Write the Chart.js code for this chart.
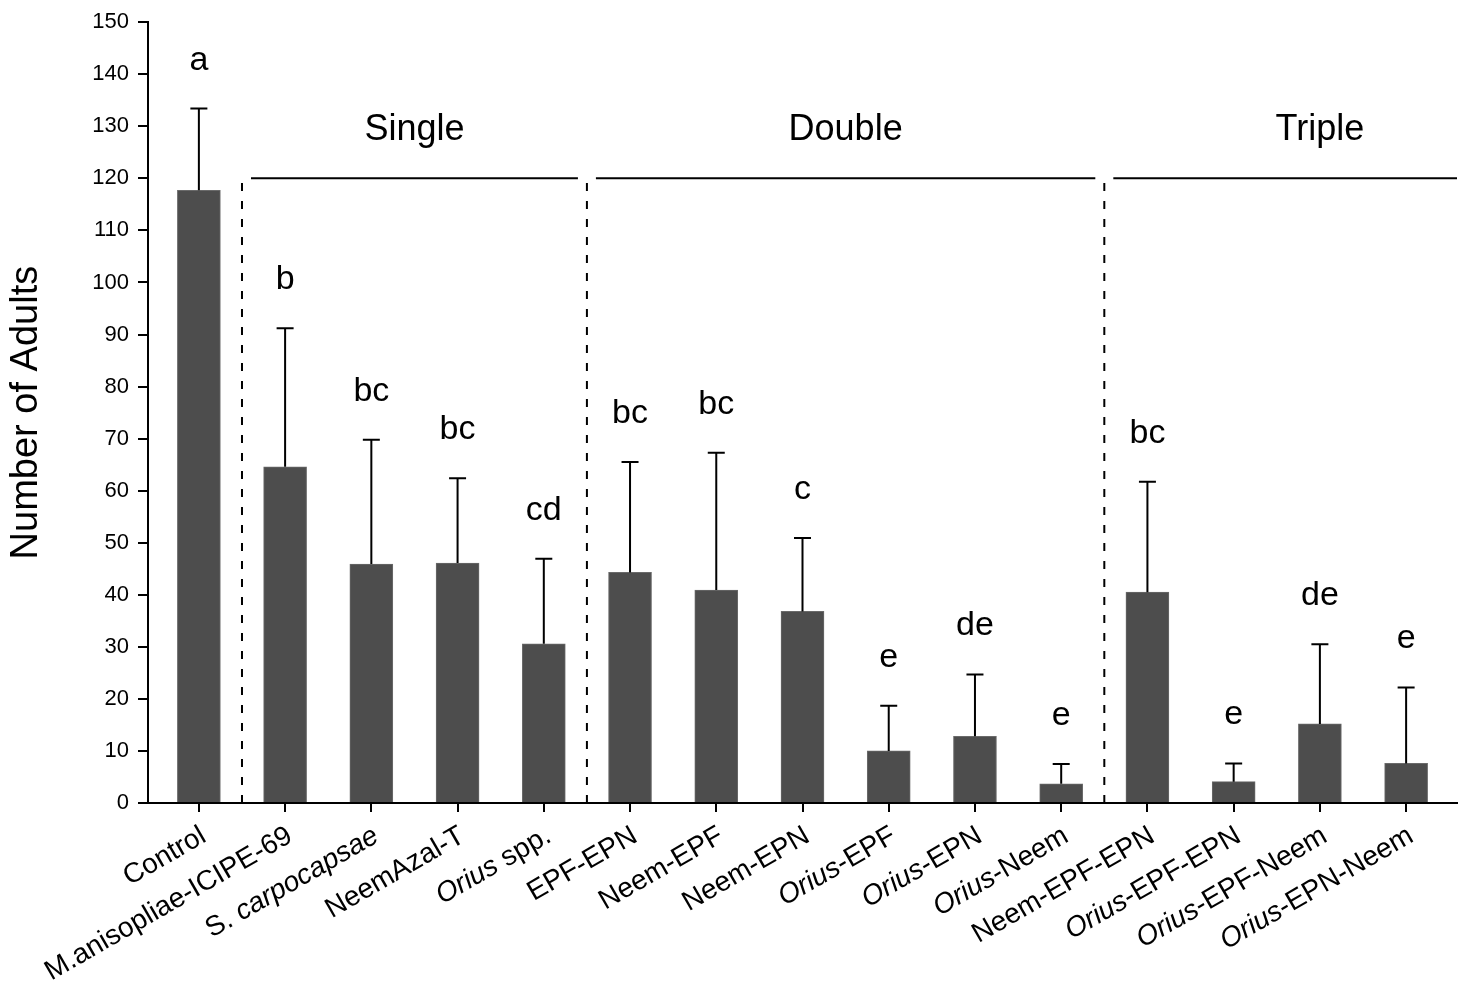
<!DOCTYPE html>
<html>
<head>
<meta charset="utf-8">
<title>Number of Adults</title>
<script src="https://cdn.jsdelivr.net/npm/chart.js@4.4.0/dist/chart.umd.min.js"></script>
<style>
  html, body { margin: 0; padding: 0; background: #fff; }
  #wrap { width: 1471px; height: 987px; }
</style>
</head>
<body>
<div id="wrap"><canvas id="adultsChart"></canvas></div>
<script>
// *text* = italic part of the label
const treatments = [
  'Control', 'M.anisopliae-ICIPE-69', 'S. *carpocapsae*', 'NeemAzal-T', '*Orius* spp.',
  'EPF-EPN', 'Neem-EPF', 'Neem-EPN', '*Orius*-EPF', '*Orius*-EPN', '*Orius*-Neem',
  'Neem-EPF-EPN', '*Orius*-EPF-EPN', '*Orius*-EPF-Neem', '*Orius*-EPN-Neem'
];
const meanAdults = [117.7, 64.6, 45.9, 46.1, 30.6, 44.3, 40.9, 36.8, 10.0, 12.8, 3.7, 40.5, 4.1, 15.2, 7.6];
const upperError = [133.4, 91.2, 69.8, 62.4, 46.9, 65.5, 67.3, 50.9, 18.7, 24.7, 7.5, 61.7, 7.6, 30.5, 22.2];
const letters = ['a', 'b', 'bc', 'bc', 'cd', 'bc', 'bc', 'c', 'e', 'de', 'e', 'bc', 'e', 'de', 'e'];

const groupNames = ['Single', 'Double', 'Triple'];
const groupCentre = [2.5, 7.5, 13];
const groupFrom = [0.5, 4.5, 10.5];
const groupTo = [4.5, 10.5, null];   // null = to end of axis
const dividers = [0.5, 4.5, 10.5];
const groupLineValue = 120;

const FONT = '"Liberation Sans", Arial, Helvetica, sans-serif';
Chart.defaults.font.family = FONT;
Chart.defaults.color = '#000';

function drawLabel(c, text, size) {
  const parts = text.split('*').map((t, i) => ({ t, it: i % 2 === 1 })).filter(p => p.t);
  let total = 0;
  parts.forEach(p => {
    c.font = (p.it ? 'italic ' : '') + size + 'px ' + FONT;
    p.w = c.measureText(p.t).width;
    total += p.w;
  });
  let x = -total;
  parts.forEach(p => {
    c.font = (p.it ? 'italic ' : '') + size + 'px ' + FONT;
    c.fillText(p.t, x, 0);
    x += p.w;
  });
}

const extras = {
  id: 'extras',
  afterDatasetsDraw(chart) {
    const c = chart.ctx;
    const xs = chart.scales.x;
    const ys = chart.scales.y;
    const area = chart.chartArea;
    c.save();
    c.strokeStyle = '#000';
    c.fillStyle = '#000';
    c.lineWidth = 2;

    // error bars + letters
    meanAdults.forEach((v, i) => {
      const px = xs.getPixelForValue(i);
      const top = ys.getPixelForValue(upperError[i]);
      const base = ys.getPixelForValue(v);
      c.beginPath();
      c.moveTo(px, base);
      c.lineTo(px, top);
      c.moveTo(px - 8.5, top);
      c.lineTo(px + 8.5, top);
      c.stroke();
      c.font = '34px ' + FONT;
      c.textAlign = 'center';
      c.textBaseline = 'alphabetic';
      c.fillText(letters[i], px, top - 39);
    });

    // dashed dividers
    const yLine = ys.getPixelForValue(groupLineValue);
    c.setLineDash([8, 10]);
    dividers.forEach(d => {
      const px = xs.getPixelForValue(d);
      c.beginPath();
      c.moveTo(px, ys.getPixelForValue(0));
      c.lineTo(px, yLine);
      c.stroke();
    });
    c.setLineDash([]);

    // group lines and names
    groupNames.forEach((g, i) => {
      const x0 = xs.getPixelForValue(groupFrom[i]) + 9;
      const x1 = groupTo[i] === null ? area.right : xs.getPixelForValue(groupTo[i]) - 9;
      c.beginPath();
      c.moveTo(x0, yLine);
      c.lineTo(x1, yLine);
      c.stroke();
      c.font = '36px ' + FONT;
      c.textAlign = 'center';
      c.textBaseline = 'alphabetic';
      c.fillText(g, xs.getPixelForValue(groupCentre[i]), yLine - 38);
    });

    // rotated x labels
    c.textAlign = 'left';
    c.textBaseline = 'middle';
    treatments.forEach((t, i) => {
      c.save();
      c.translate(xs.getPixelForValue(i) + 5, area.bottom + 31);
      c.rotate(-Math.PI / 6);
      drawLabel(c, t, 28);
      c.restore();
    });
    c.restore();
  }
};

const ctx = document.getElementById('adultsChart');
const chart = new Chart(ctx, {
  type: 'bar',
  data: {
    datasets: [{
      data: meanAdults.map((v, i) => ({ x: i, y: v })),
      backgroundColor: '#4d4d4d',
      borderColor: '#6a6a6a',
      borderWidth: 1,
      barThickness: 43
    }]
  },
  options: {
    responsive: true,
    maintainAspectRatio: false,
    animation: false,
    layout: { padding: { top: 18, right: 14, left: 0, bottom: 0 } },
    plugins: { legend: { display: false }, tooltip: { enabled: false } },
    scales: {
      x: {
        type: 'linear',
        min: -0.59,
        max: 14.59,
        offset: false,
        afterBuildTicks: s => { s.ticks = treatments.map((_, i) => ({ value: i })); },
        ticks: { callback: () => '', autoSkip: false },
        grid: { offset: false, drawOnChartArea: false, color: '#000', lineWidth: 2, tickLength: 9 },
        border: { color: '#000', width: 2 },
        afterFit: s => { s.height = 184; }
      },
      y: {
        min: 0,
        max: 150,
        ticks: { stepSize: 10, font: { size: 22 }, color: '#000', padding: 9 },
        grid: { drawOnChartArea: false, color: '#000', lineWidth: 2, tickLength: 10 },
        border: { color: '#000', width: 2 },
        title: { display: true, text: 'Number of Adults', font: { size: 38 }, color: '#000', padding: { top: 4, bottom: 0 } },
        afterFit: s => { s.width = 148; }
      }
    }
  },
  plugins: [extras]
});
</script>
</body>
</html>
